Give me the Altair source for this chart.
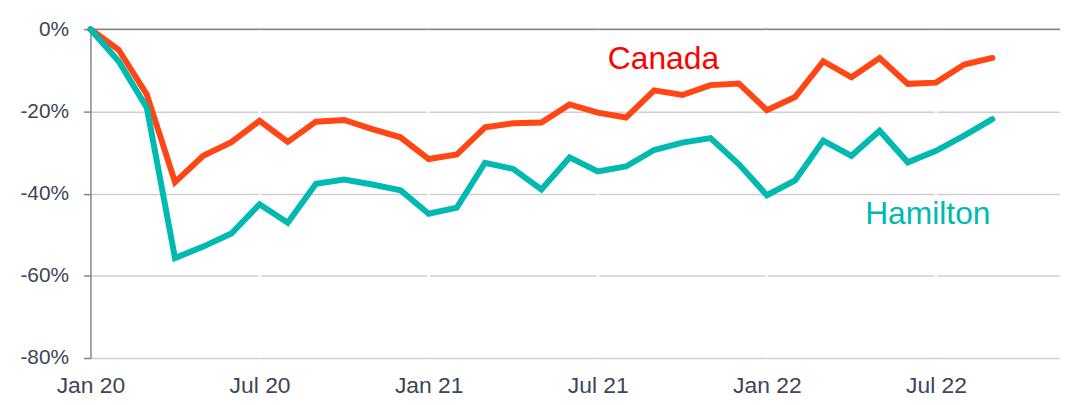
import altair as alt
import pandas as pd

# Monthly index 0 = Jan 2020 ... 32 = Sep 2022
months = list(range(33))
canada = [0.0, -5.0, -15.9, -37.2, -30.8, -27.5, -22.3, -27.4, -22.5, -22.1,
          -24.3, -26.3, -31.6, -30.5, -23.9, -22.9, -22.7, -18.3, -20.3, -21.5,
          -14.9, -16.0, -13.6, -13.2, -19.7, -16.5, -7.8, -11.7, -7.0, -13.3,
          -13.0, -8.6, -7.0]
hamilton = [0.0, -7.8, -19.1, -55.7, -52.9, -49.7, -42.6, -47.1, -37.6, -36.6,
            -37.8, -39.2, -44.9, -43.4, -32.5, -34.0, -39.0, -31.2, -34.6, -33.4,
            -29.4, -27.6, -26.5, -32.8, -40.4, -36.8, -27.1, -30.8, -24.7, -32.4,
            -29.6, -25.9, -21.9]

x_tick_values = [0, 6, 12, 18, 24, 30]
x_tick_labels = ["Jan 20", "Jul 20", "Jan 21", "Jul 21", "Jan 22", "Jul 22"]
y_tick_values = [-80, -60, -40, -20, 0]

series_names = ["Canada", "Hamilton"]
series_colors = ["#FF4614", "#00B9B1"]
label_colors = ["#FF0000", "#00B9B1"]
label_x = [20.33, 29.71]
label_y = [-9.7, -47.4]

df = pd.DataFrame({
    "month": months * 2,
    "value": canada + hamilton,
    "series": ["Canada"] * len(months) + ["Hamilton"] * len(months),
})
ticks_df = pd.DataFrame({"month": x_tick_values[1:]})
top_df = pd.DataFrame({"value": [y_tick_values[-1]]})
labels_df = pd.DataFrame({"series": series_names, "month": label_x, "value": label_y,
                          "color": label_colors})

label_expr = " : ".join(
    [f"datum.value == {v} ? '{l}'" for v, l in zip(x_tick_values, x_tick_labels)]
) + " : ''"

x_scale = alt.Scale(domain=[0, 34.4], nice=False, zero=False)
y_scale = alt.Scale(domain=[-80, 0], nice=False)

font = "Liberation Sans"
label_color = "#3D4656"

base_x = alt.X("month:Q", scale=x_scale, title=None,
               axis=alt.Axis(values=x_tick_values, labelExpr=label_expr, grid=False,
                             domain=False, ticks=False, labelPadding=17,
                             labelFontSize=23, labelFont=font, labelColor=label_color,
                             labelFlush=False))
base_y = alt.Y("value:Q", scale=y_scale, title=None,
               axis=alt.Axis(values=y_tick_values, labelExpr="datum.value + '%'",
                             grid=True, gridColor="#CFCFCF", gridWidth=1.5,
                             domain=True, domainColor="#868686", domainWidth=1.5,
                             ticks=True, tickColor="#868686", tickWidth=1.5, tickSize=7,
                             labelPadding=15, labelFontSize=21, labelFont=font,
                             labelColor=label_color))

white_ticks = alt.Chart(ticks_df).mark_rule(color="white", strokeWidth=2.5).encode(
    x=alt.X("month:Q", scale=x_scale)
)

top_line = alt.Chart(top_df).mark_rule(color="#868686", strokeWidth=1.5).encode(
    y=alt.Y("value:Q", scale=y_scale)
)

lines = alt.Chart(df).mark_line(strokeWidth=6, strokeCap="round", strokeJoin="miter").encode(
    x=base_x,
    y=base_y,
    color=alt.Color("series:N", scale=alt.Scale(domain=series_names, range=series_colors),
                    legend=None),
)

texts = alt.Chart(labels_df).mark_text(fontSize=32, font=font, align="center",
                                        baseline="alphabetic").encode(
    x=alt.X("month:Q", scale=x_scale),
    y=alt.Y("value:Q", scale=y_scale),
    text="series:N",
    color=alt.Color("color:N", scale=None),
)

chart = alt.layer(white_ticks, top_line, lines, texts).properties(
    width=976, height=331,
    padding={"left": 83, "top": 20, "right": 0, "bottom": 48},
    autosize=alt.AutoSizeParams(type="none"),
    background="white",
).configure_view(stroke=None)

chart.save("out.html", embed_options={"renderer": "svg", "actions": False})
